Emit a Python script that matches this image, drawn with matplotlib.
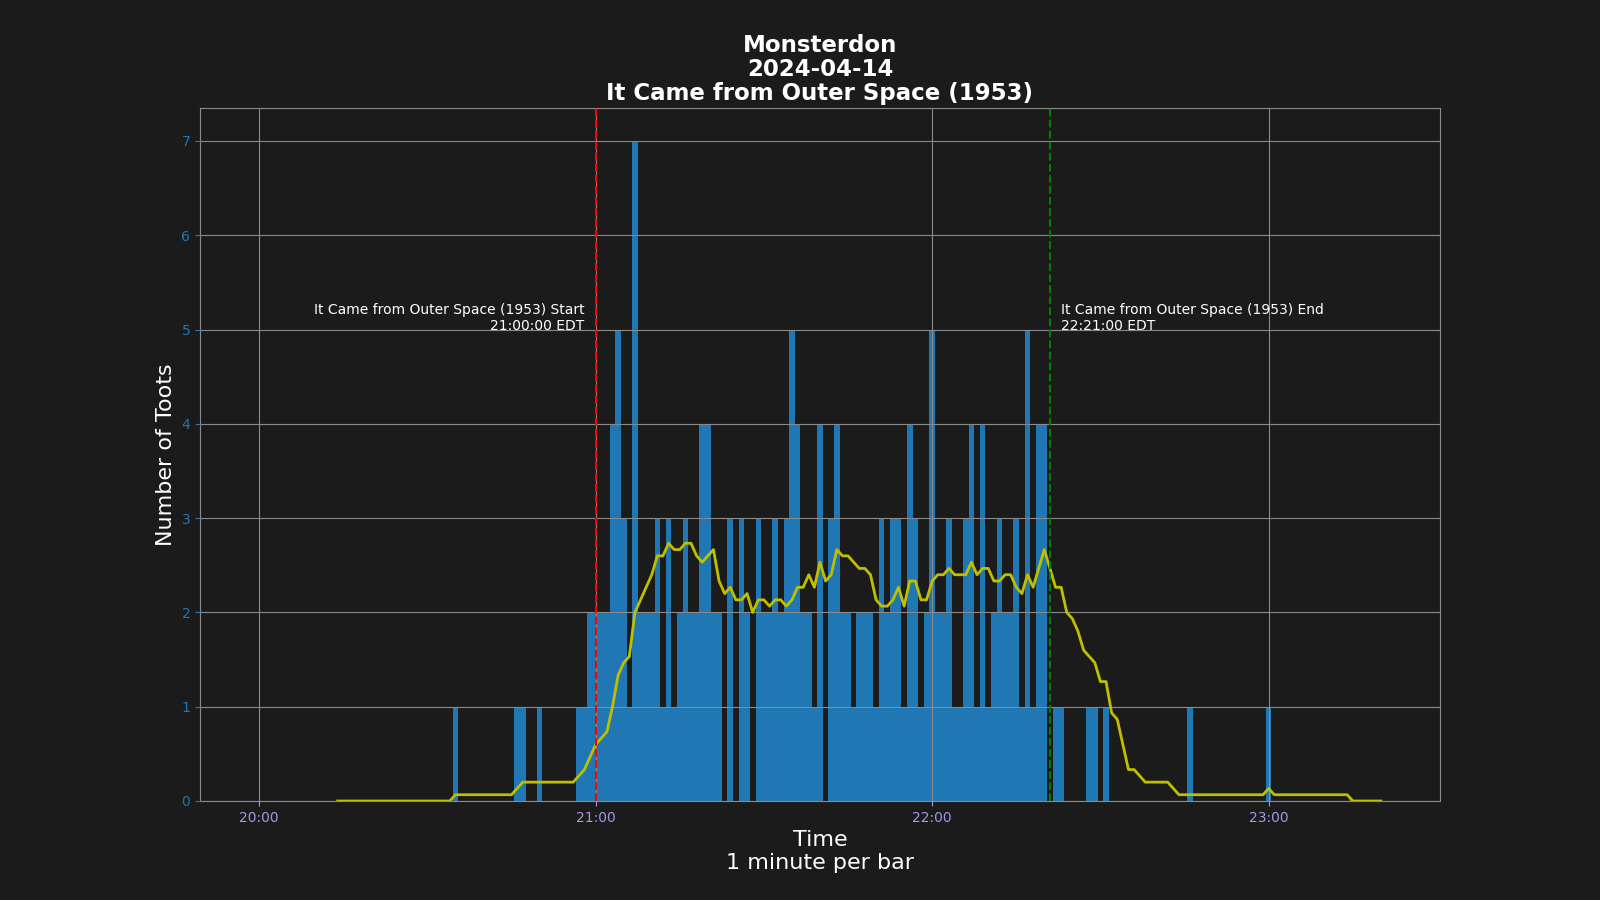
import numpy as np
import pandas as pd
import matplotlib
matplotlib.use('Agg')
import matplotlib.pyplot as plt
import matplotlib.dates as mdates

# Toots per minute, starting at 20:00 (one row = 15 minutes)
start_time = '2024-04-14 20:00'
toot_counts = [
    0, 0, 0, 0, 0, 0, 0, 0, 0, 0, 0, 0, 0, 0, 0,   # 20:00
    0, 0, 0, 0, 0, 0, 0, 0, 0, 0, 0, 0, 0, 0, 0,   # 20:15
    0, 0, 0, 0, 0, 1, 0, 0, 0, 0, 0, 0, 0, 0, 0,   # 20:30
    0, 1, 1, 0, 0, 1, 0, 0, 0, 0, 0, 0, 1, 1, 2,   # 20:45
    2, 2, 2, 4, 5, 3, 1, 7, 2, 2, 2, 3, 1, 3, 1,   # 21:00
    2, 3, 2, 2, 4, 4, 2, 2, 0, 3, 0, 3, 2, 0, 3,   # 21:15
    2, 2, 3, 2, 3, 5, 4, 2, 2, 1, 4, 0, 3, 4, 2,   # 21:30
    2, 1, 2, 2, 2, 1, 3, 2, 3, 3, 1, 4, 3, 1, 2,   # 21:45
    5, 2, 2, 3, 1, 1, 3, 4, 1, 4, 1, 2, 3, 2, 2,   # 22:00
    3, 1, 5, 1, 4, 4, 0, 1, 1, 0, 0, 0, 0, 1, 1,   # 22:15
    0, 1, 0, 0, 0, 0, 0, 0, 0, 0, 0, 0, 0, 0, 0,   # 22:30
    0, 1, 0, 0, 0, 0, 0, 0, 0, 0, 0, 0, 0, 0, 0,   # 22:45
    1, 0, 0, 0, 0, 0, 0, 0, 0, 0, 0, 0, 0, 0, 0,   # 23:00
    0, 0, 0, 0, 0, 0,                              # 23:15
]

movie = 'It Came from Outer Space (1953)'
movie_start = '2024-04-14 21:00'
movie_end = '2024-04-14 22:21'
title_lines = ['Monsterdon', '2024-04-14', movie]

bg = '#1b1b1b'

times = pd.date_range(start_time, periods=len(toot_counts), freq='1min')
counts = pd.Series(toot_counts, index=times)
rolling = counts.rolling(15).mean()

fig, ax = plt.subplots(figsize=(16, 9), dpi=100)
fig.patch.set_facecolor(bg)
ax.set_facecolor(bg)

ax.bar(times, counts.values, width=1 / 1440, color='#1f77b4')
ax.plot(times, rolling.values, color='y', linewidth=2, zorder=3)

t0 = pd.Timestamp(movie_start)
t1 = pd.Timestamp(movie_end)
ax.axvline(t0, color='r', linestyle='--', linewidth=1.5, zorder=3)
ax.axvline(t1, color='g', linestyle='--', linewidth=1.5, zorder=3)

offset = pd.Timedelta(minutes=2)
ax.text(t0 - offset, 4.965, movie + ' Start\n' + t0.strftime('%H:%M:%S') + ' EDT',
        color='white', ha='right', va='bottom', fontsize=10)
ax.text(t1 + offset, 4.965, movie + ' End\n' + t1.strftime('%H:%M:%S') + ' EDT',
        color='white', ha='left', va='bottom', fontsize=10)

ax.xaxis.set_major_locator(mdates.HourLocator())
ax.xaxis.set_major_formatter(mdates.DateFormatter('%H:%M'))

ax.grid(True, color='#8a8a8a', linewidth=0.8)
ax.set_axisbelow(False)
for s in ax.spines.values():
    s.set_color('#8a8a8a')
ax.tick_params(axis='x', colors='#9a9ae6')
ax.tick_params(axis='y', colors='#1f77b4')

ax.set_xlabel('Time\n1 minute per bar', color='white', fontsize=16)
ax.set_ylabel('Number of Toots', color='white', fontsize=16)
ax.set_title('\n'.join(title_lines), color='white', fontsize=16.5,
             fontweight='heavy', linespacing=1.05)

fig.savefig('out.png', facecolor=bg)
